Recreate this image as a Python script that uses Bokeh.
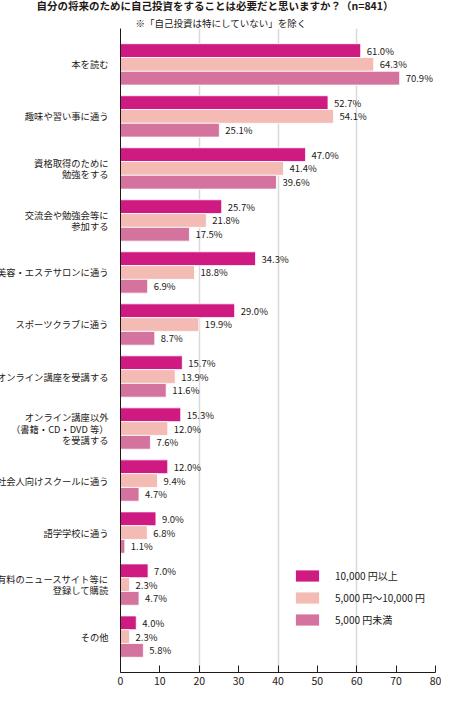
from bokeh.plotting import figure
from bokeh.models import (FactorRange, ColumnDataSource, Title, Legend, LegendItem,
                          FixedTicker, Range1d)
from bokeh.transform import dodge
from bokeh.core.properties import value
from bokeh.embed import file_html
from bokeh.resources import INLINE

# ---------------- data ----------------
categories = [
    "本を読む",
    "趣味や習い事に通う",
    "資格取得のために\n勉強をする",
    "交流会や勉強会等に\n参加する",
    "美容・エステサロンに通う",
    "スポーツクラブに通う",
    "オンライン講座を受講する",
    "オンライン講座以外\n（書籍・CD・DVD 等）\nを受講する",
    "社会人向けスクールに通う",
    "語学学校に通う",
    "有料のニュースサイト等に\n登録して購読",
    "その他",
]
high = [61.0, 52.7, 47.0, 25.7, 34.3, 29.0, 15.7, 15.3, 12.0, 9.0, 7.0, 4.0]
mid = [64.3, 54.1, 41.4, 21.8, 18.8, 19.9, 13.9, 12.0, 9.4, 6.8, 2.3, 2.3]
low = [70.9, 25.1, 39.6, 17.5, 6.9, 8.7, 11.6, 7.6, 4.7, 1.1, 4.7, 5.8]
series_names = ["10,000 円以上", "5,000 円〜10,000 円", "5,000 円未満"]
x_ticks = [0, 10, 20, 30, 40, 50, 60, 70, 80]
grid_ticks = [20, 40, 60]
title_text = "自分の将来のために自己投資をすることは必要だと思いますか？（n=841）"
subtitle_text = "※「自己投資は特にしていない」を除く"

# ---------------- style ----------------
FONT = "Noto Sans CJK JP"
colors = ["#CF1A82", "#F4BBB5", "#D4739E"]
TEXT = "#231815"

src = ColumnDataSource(dict(
    cat=categories, high=high, mid=mid, low=low,
    high_l=[f"{v:.1f}%" for v in high],
    mid_l=[f"{v:.1f}%" for v in mid],
    low_l=[f"{v:.1f}%" for v in low],
))

p = figure(
    frame_width=315, frame_height=644,
    y_range=FactorRange(*reversed(categories), range_padding=0.19,
                        range_padding_units="absolute"),
    x_range=Range1d(0, 80),
    output_backend="svg", toolbar_location=None,
    min_border_left=128, min_border_right=6,
    min_border_top=0, min_border_bottom=0,
)
# let the figure use the whole window (cancel the page's 8px margin)
p.styles = {"margin": "-8px"}
p.title = None
p.outline_line_color = None
p.background_fill_color = "white"

# titles
sub = Title(text=subtitle_text, align="left", offset=15, standoff=-3,
            text_font=FONT, text_font_size="9.5px", text_font_style="normal",
            text_color=TEXT)
main = Title(text=title_text, align="left", offset=-84, standoff=6,
             text_font=FONT, text_font_size="10.5px", text_font_style="bold",
             text_color=TEXT)
p.add_layout(sub, "above")
p.add_layout(main, "above")

offsets = [0.265, 0.0, -0.265]
cols = ["high", "mid", "low"]
renderers = []
for col, off, c in zip(cols, offsets, colors):
    r = p.hbar(y=dodge("cat", off, range=p.y_range), left=0, right=col,
               height=0.265, source=src, fill_color=c,
               line_color="white", line_width=0.8)
    renderers.append(r)
    p.text(x=col, y=dodge("cat", off, range=p.y_range), text=col + "_l",
           source=src, x_offset=6, text_baseline="middle", text_align="left",
           text_font=value(FONT), text_font_size="9.5px", text_color=TEXT)

# axes
xa = p.xaxis[0]
xa.ticker = FixedTicker(ticks=x_ticks)
xa.major_tick_in = 7
xa.major_tick_out = 0
xa.minor_tick_line_color = None
xa.major_label_standoff = 4
xa.major_label_text_font = FONT
xa.major_label_text_font_size = "10.5px"
xa.major_label_text_color = TEXT
xa.axis_line_color = TEXT
xa.major_tick_line_color = TEXT

ya = p.yaxis[0]
ya.major_tick_line_color = None
ya.minor_tick_line_color = None
ya.major_label_standoff = 6
ya.major_label_text_font = FONT
ya.major_label_text_font_size = "9.3px"
ya.major_label_text_color = TEXT
ya.major_label_text_line_height = 0.8
ya.axis_line_color = TEXT

p.ygrid.grid_line_color = None
p.xgrid.ticker = FixedTicker(ticks=grid_ticks)
p.xgrid.grid_line_color = "#d9d9d9"
p.xgrid.grid_line_width = 1.5

legend = Legend(
    items=[LegendItem(label=n, renderers=[r]) for n, r in zip(series_names, renderers)],
    location=(172, 45), orientation="vertical",
    glyph_width=30, glyph_height=15, label_height=15, spacing=7,
    label_standoff=13, padding=0, margin=0,
    border_line_color=None, background_fill_alpha=0,
    label_text_font=FONT, label_text_font_size="10px", label_text_color=TEXT,
)
p.add_layout(legend)

open("out.html", "w").write(file_html(p, INLINE))
